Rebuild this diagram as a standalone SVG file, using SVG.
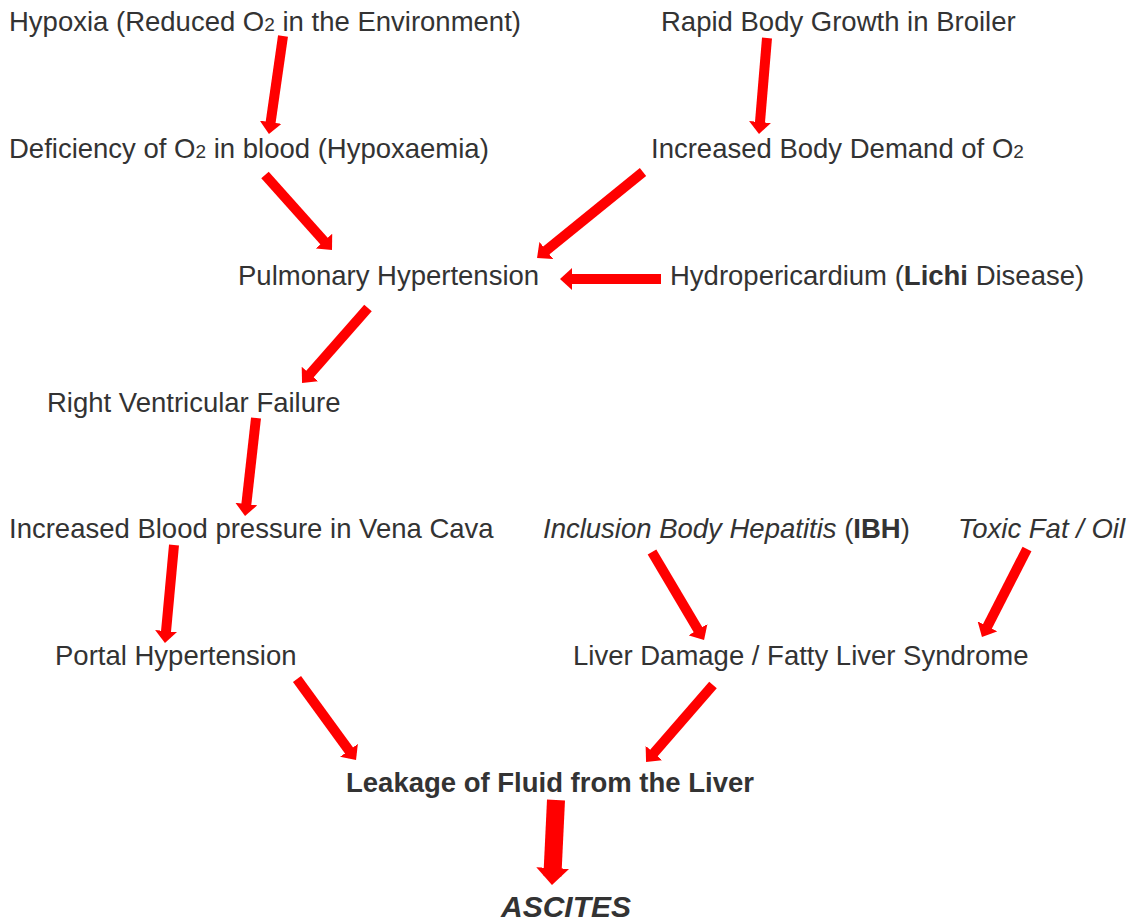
<svg xmlns="http://www.w3.org/2000/svg" width="1133" height="922" viewBox="0 0 1133 922">
<defs>
<style>
text{font-family:"Liberation Sans",Arial,sans-serif;font-size:27.5px;fill:#333333}
.sub{font-size:19px}
.b{font-weight:bold}
.i{font-style:italic}
.arr{stroke:#ff0000;stroke-width:10;fill:none;marker-end:url(#head)}
.arr2{stroke:#ff0000;stroke-width:18;fill:none;marker-end:url(#head2)}
</style>
<marker id="head" markerUnits="userSpaceOnUse" markerWidth="12" markerHeight="22" viewBox="0 0 12 22" refX="6" refY="11" orient="auto">
<path d="M0,0 L12,11 L0,22 z" fill="#ff0000"/>
</marker>
<marker id="head2" markerUnits="userSpaceOnUse" markerWidth="17" markerHeight="33" viewBox="0 0 17 33" refX="8" refY="16.5" orient="auto">
<path d="M0,0 L17,16.5 L0,33 z" fill="#ff0000"/>
</marker>
</defs>
<rect width="1133" height="922" fill="#ffffff"/>
<g id="connectors">
<line class="arr" x1="283" y1="36" x2="269.8" y2="128.1"/>
<line class="arr" x1="767" y1="38" x2="759.5" y2="128"/>
<line class="arr" x1="265" y1="175" x2="328" y2="245.5"/>
<line class="arr" x1="643" y1="172" x2="541.7" y2="254.2"/>
<line class="arr" x1="661" y1="279" x2="566" y2="279"/>
<line class="arr" x1="368" y1="308" x2="306" y2="378.5"/>
<line class="arr" x1="256" y1="418" x2="245.7" y2="510"/>
<line class="arr" x1="174" y1="545" x2="165.5" y2="637"/>
<line class="arr" x1="652" y1="552" x2="701" y2="634.8"/>
<line class="arr" x1="1027" y1="549" x2="984.7" y2="631.7"/>
<line class="arr" x1="297" y1="679" x2="352.5" y2="755.2"/>
<line class="arr" x1="713" y1="685" x2="650" y2="757.5"/>
<line class="arr2" x1="556" y1="800" x2="552.4" y2="876"/>
</g>
<g id="hypoxia"><text x="9" y="31">Hypoxia (Reduced O<tspan class="sub">2</tspan> in the Environment)</text></g>
<g id="rapid-growth"><text x="661" y="31">Rapid Body Growth in Broiler</text></g>
<g id="hypoxaemia"><text x="9" y="158">Deficiency of O<tspan class="sub">2</tspan> in blood (Hypoxaemia)</text></g>
<g id="increased-demand"><text x="651" y="158">Increased Body Demand of O<tspan class="sub">2</tspan></text></g>
<g id="pulmonary-hypertension"><text x="238" y="285">Pulmonary Hypertension</text></g>
<g id="hydropericardium"><text x="670" y="285">Hydropericardium (<tspan class="b">Lichi</tspan> Disease)</text></g>
<g id="right-ventricular-failure"><text x="47" y="412">Right Ventricular Failure</text></g>
<g id="vena-cava"><text x="9" y="538">Increased Blood pressure in Vena Cava</text></g>
<g id="ibh"><text x="543" y="538"><tspan class="i">Inclusion Body Hepatitis</tspan> (<tspan class="b">IBH</tspan>)</text></g>
<g id="toxic-fat"><text x="958" y="538" class="i">Toxic Fat / Oil</text></g>
<g id="portal-hypertension"><text x="55" y="665">Portal Hypertension</text></g>
<g id="liver-damage"><text x="573" y="665">Liver Damage / Fatty Liver Syndrome</text></g>
<g id="leakage"><text x="346" y="792" class="b">Leakage of Fluid from the Liver</text></g>
<g id="ascites"><text x="501" y="917" class="b i" style="font-size:30px">ASCITES</text></g>
</svg>
